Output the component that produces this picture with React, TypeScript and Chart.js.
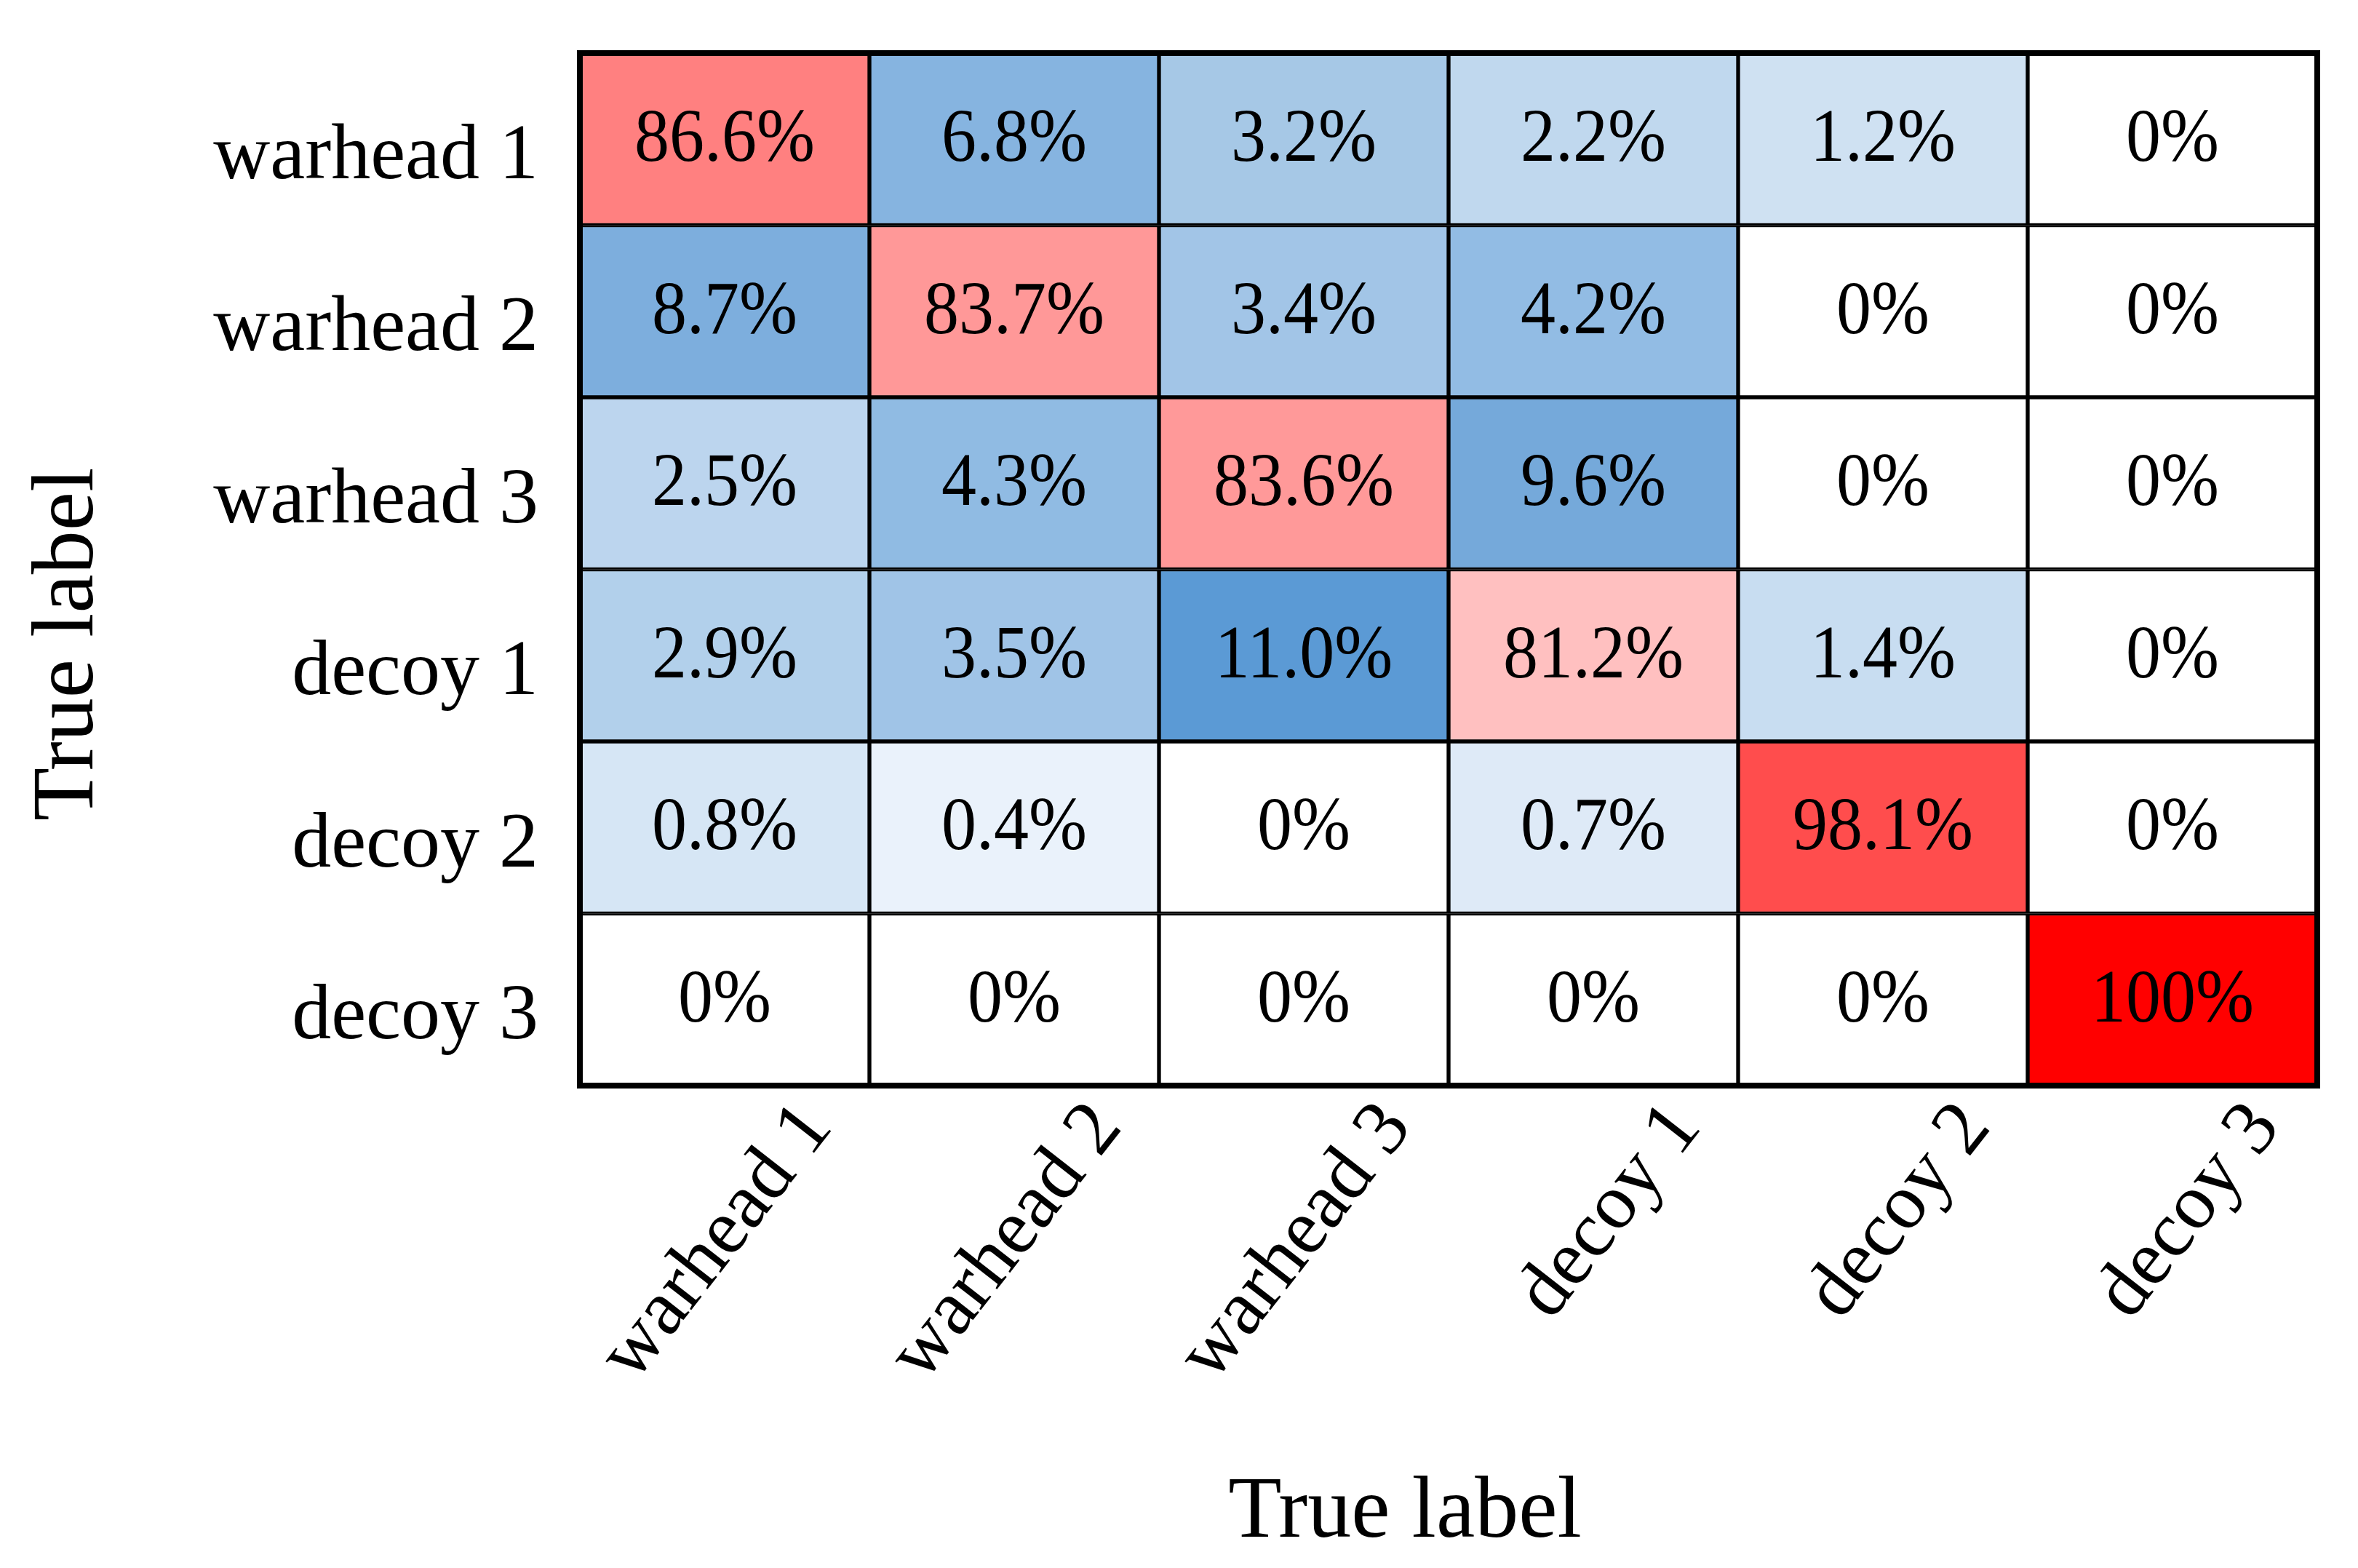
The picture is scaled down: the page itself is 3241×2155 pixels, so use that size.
import React, { useEffect, useRef } from "react";
import { Chart, registerables } from "chart.js";

Chart.register(...registerables);

// ---------- data ----------
const predictedLabels = ["warhead 1", "warhead 2", "warhead 3", "decoy 1", "decoy 2", "decoy 3"];
const trueLabels = ["warhead 1", "warhead 2", "warhead 3", "decoy 1", "decoy 2", "decoy 3"];

const warhead1Row = [86.6, 6.8, 3.2, 2.2, 1.2, 0];
const warhead2Row = [8.7, 83.7, 3.4, 4.2, 0, 0];
const warhead3Row = [2.5, 4.3, 83.6, 9.6, 0, 0];
const decoy1Row = [2.9, 3.5, 11.0, 81.2, 1.4, 0];
const decoy2Row = [0.8, 0.4, 0, 0.7, 98.1, 0];
const decoy3Row = [0, 0, 0, 0, 0, 100];

const rows = [warhead1Row, warhead2Row, warhead3Row, decoy1Row, decoy2Row, decoy3Row];

const xTitle = "True label";
const yTitle = "True label";

// ---------- colour scales (style) ----------
type Stop = [number, [number, number, number]];
const blueStops: Stop[] = [
  [0, [255, 255, 255]],
  [0.4, [234, 242, 251]],
  [0.7, [222, 234, 247]],
  [0.8, [214, 230, 245]],
  [1.2, [207, 225, 242]],
  [1.4, [200, 221, 241]],
  [2.2, [192, 216, 238]],
  [2.5, [188, 213, 238]],
  [2.9, [178, 208, 235]],
  [3.2, [166, 200, 230]],
  [3.5, [160, 196, 231]],
  [4.3, [144, 187, 227]],
  [6.8, [134, 180, 224]],
  [8.7, [125, 174, 221]],
  [9.6, [117, 169, 218]],
  [11, [91, 154, 213]],
];
const redStops: Stop[] = [
  [78, [255, 255, 255]],
  [81.2, [255, 192, 192]],
  [83.6, [255, 153, 153]],
  [86.6, [255, 128, 128]],
  [98.1, [255, 77, 77]],
  [100, [255, 0, 0]],
];

function interp(stops: Stop[], v: number): string {
  if (v <= stops[0][0]) return `rgb(${stops[0][1].join(",")})`;
  for (let i = 1; i < stops.length; i++) {
    const [v1, c1] = stops[i];
    const [v0, c0] = stops[i - 1];
    if (v <= v1) {
      const t = (v - v0) / (v1 - v0);
      const c = c0.map((a, k) => Math.round(a + (c1[k] - a) * t));
      return `rgb(${c.join(",")})`;
    }
  }
  return `rgb(${stops[stops.length - 1][1].join(",")})`;
}

function cellColor(v: number): string {
  if (v === 0) return "#ffffff";
  return v >= 50 ? interp(redStops, v) : interp(blueStops, v);
}

function formatValue(v: number): string {
  if (v === 0) return "0%";
  if (v === 100) return "100%";
  return v.toFixed(1) + "%";
}

const FONT = '"Liberation Serif", "Times New Roman", serif';

const cellTextPlugin = {
  id: "cellText",
  afterDatasetsDraw(chart: any) {
    const ctx = chart.ctx;
    ctx.save();
    ctx.fillStyle = "#000";
    ctx.textAlign = "center";
    ctx.textBaseline = "middle";
    ctx.font = `96px ${FONT}`;
    chart.data.datasets.forEach((ds: any, r: number) => {
      const meta = chart.getDatasetMeta(r);
      meta.data.forEach((el: any, c: number) => {
        const p = el.getCenterPoint();
        ctx.save();
        ctx.translate(p.x, p.y + 3);
        ctx.scale(1, 1.07);
        ctx.fillText(formatValue(rows[r][c]), 0, 0);
        ctx.restore();
      });
    });
    // outer frame
    const a = chart.chartArea;
    ctx.strokeStyle = "#000";
    ctx.lineWidth = 8;
    ctx.strokeRect(a.left, a.top, a.right - a.left, a.bottom - a.top);
    ctx.restore();
  },
};

const titlesPlugin = {
  id: "axisTitles",
  afterDraw(chart: any) {
    const ctx = chart.ctx;
    const a = chart.chartArea;
    ctx.save();
    ctx.fillStyle = "#000";
    ctx.font = `120px ${FONT}`;
    ctx.textAlign = "center";
    ctx.textBaseline = "alphabetic";
    // x title
    ctx.fillText(xTitle, (a.left + a.right) / 2 - 60, a.bottom + 620);
    // y title
    ctx.translate(a.left - 670, (a.top + a.bottom) / 2 + 103);
    ctx.rotate(-Math.PI / 2);
    ctx.fillText(yTitle, 0, 0);
    ctx.restore();
  },
};

export default function App() {
  const canvasRef = useRef<HTMLCanvasElement | null>(null);

  useEffect(() => {
    document.body.style.margin = "0";
    const canvas = canvasRef.current;
    if (!canvas) return;
    Chart.defaults.font.family = FONT;
    const chart = new Chart(canvas, {
      type: "bar",
      data: {
        labels: predictedLabels,
        datasets: rows.map((row, r) => ({
          label: trueLabels[r],
          data: row.map(() => [r, r + 1] as [number, number]),
          backgroundColor: row.map((v) => cellColor(v)),
          borderColor: "#000",
          borderWidth: 3,
          borderSkipped: false,
          barPercentage: 1,
          categoryPercentage: 1,
          grouped: false,
        })),
      } as any,
      options: {
        animation: false,
        responsive: true,
        maintainAspectRatio: false,
        devicePixelRatio: 1,
        layout: { padding: { left: 0, top: 73, right: 56, bottom: 0 } },
        plugins: {
          legend: { display: false },
          tooltip: { enabled: false },
          title: { display: false },
        },
        scales: {
          x: {
            type: "category",
            position: "bottom",
            grid: { display: false, drawTicks: false },
            border: { display: false },
            ticks: {
              color: "#000",
              font: { size: 108, family: FONT, lineHeight: 1.2 },
              minRotation: 52,
              maxRotation: 52,
              padding: 0,
              labelOffset: 128,
              autoSkip: false,
            },
            afterFit: (s: any) => {
              s.height = 663;
              s.paddingLeft = 0;
              s.paddingRight = 0;
            },
          },
          y: {
            type: "linear",
            min: 0,
            max: 6,
            reverse: true,
            grid: { display: false, drawTicks: false },
            border: { display: false },
            afterBuildTicks: (s: any) => {
              s.ticks = trueLabels.map((_, i) => ({ value: i + 0.5 }));
            },
            ticks: {
              color: "#000",
              font: { size: 108, family: FONT },
              padding: 57,
              labelOffset: 25,
              autoSkip: false,
              callback: (v: any) => trueLabels[Math.floor(Number(v))],
            },
            afterFit: (s: any) => {
              s.width = 797;
              s.paddingTop = 0;
              s.paddingBottom = 0;
            },
          },
        },
      } as any,
      plugins: [cellTextPlugin, titlesPlugin],
    });
    return () => chart.destroy();
  }, []);

  return (
    <div style={{ position: "relative", width: "3241px", height: "2155px", background: "#fff" }}>
      <canvas ref={canvasRef} />
    </div>
  );
}
